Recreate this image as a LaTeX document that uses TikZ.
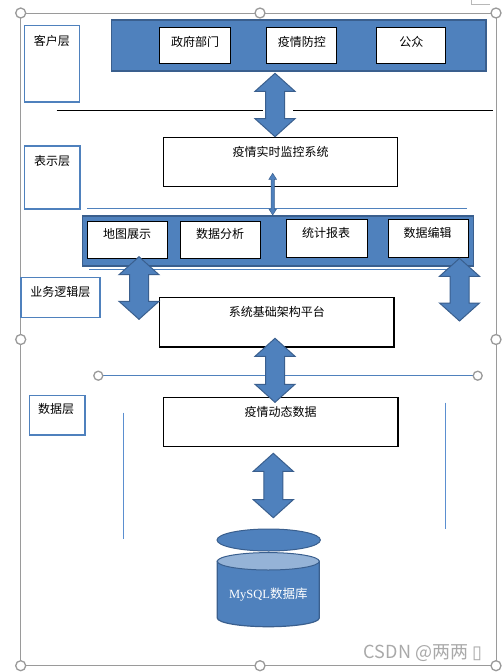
\documentclass[tikz,border=0pt]{standalone}
\usepackage{fontspec}
\setmainfont{Liberation Serif}
\newfontfamily\cjk{Noto Sans CJK SC}
\newfontfamily\dejavu{DejaVu Sans}
\usetikzlibrary{calc}
\definecolor{bfill}{HTML}{4F81BD}
\definecolor{bdark}{HTML}{3A5F8E}
\definecolor{blight}{HTML}{95B3D7}
\definecolor{bthin}{HTML}{5B8FD0}
\definecolor{frm}{HTML}{9A9A9A}
% block double arrow: top point, bottom point
\newcommand\blockarr[2]{\filldraw[arr] let \p1=#1, \p2=#2 in
  (\x1,\y1) -- (\x1+20pt,\y1-18pt) -- (\x1+9.5pt,\y1-18pt) -- (\x1+9.5pt,\y2+18pt) -- (\x1+20pt,\y2+18pt)
  -- (\x1,\y2) -- (\x1-20pt,\y2+18pt) -- (\x1-9.5pt,\y2+18pt) -- (\x1-9.5pt,\y1-18pt) -- (\x1-20pt,\y1-18pt) -- cycle;}
\newcommand\thinarr[2]{\filldraw[arr,line width=0.5pt] let \p1=#1, \p2=#2 in
  (\x1,\y1) -- (\x1+3.8pt,\y1-6pt) -- (\x1+1.7pt,\y1-6pt) -- (\x1+1.7pt,\y2+6pt) -- (\x1+3.8pt,\y2+6pt)
  -- (\x1,\y2) -- (\x1-3.8pt,\y2+6pt) -- (\x1-1.7pt,\y2+6pt) -- (\x1-1.7pt,\y1-6pt) -- (\x1-3.8pt,\y1-6pt) -- cycle;}
% box by corners
\newcommand\bx[6]{\node[#2, anchor=north west, inner sep=0pt, minimum width={(#5-#3)*1pt}, minimum height={(#6-#4)*1pt}] (#1) at (#3,#4) {};}
\tikzset{
  arr/.style={fill=bfill, draw=bdark, line width=1pt, line join=miter},
  layerbox/.style={draw=bfill, line width=1.5pt, fill=white},
  bar/.style={fill=bfill, draw=bdark, line width=1.5pt},
  wbox/.style={draw=black, line width=1pt, fill=white},
  bigbox/.style={draw=black, line width=1.7pt, fill=white},
  lbl/.style={font=\cjk\fontsize{12}{14}\selectfont, inner sep=0pt},
  handle/.style={draw=frm, line width=1.3pt, fill=white},
  bline/.style={draw=bfill, line width=0.9pt},
  vline/.style={draw=bthin, line width=1pt},
}
\begin{document}
\begin{tikzpicture}[x=1pt,y=-1pt]
\useasboundingbox (0,0) rectangle (501,672);
\fill[white] (0,0) rectangle (501,672);
% outer frame
\draw[frm, line width=1pt] (20.7,13) rectangle (496,665.7);
\draw[frm!70, line width=0.8pt] (471.7,0) -- (471.7,4.7) -- (490,4.7);
% layer label boxes
\bx{kh}{layerbox}{23.7}{24.7}{78.7}{101.3}
\bx{bs}{layerbox}{23.7}{145.3}{79}{208}
\bx{yw}{layerbox}{20}{276.7}{99.3}{316.7}
\bx{sj}{layerbox}{28.7}{394.7}{84}{434.3}
\node[lbl] (khT) at ([yshift=-15.8pt]kh.north) {客户层};
\node[lbl] (bsT) at ([yshift=-15.4pt]bs.north) {表示层};
\node[lbl] (ywT) at ([yshift=-15pt]yw.north) {业务逻辑层};
\node[lbl] (sjT) at ([xshift=-1pt,yshift=-14.6pt]sj.north) {数据层};
% top bar
\bx{bar1}{bar}{110.7}{19.3}{485.3}{70.3}
\bx{zf}{wbox}{159.3}{27.3}{229.7}{63}
\bx{yq}{wbox}{266.3}{27.3}{336.3}{63}
\bx{gz}{wbox}{376.3}{27.3}{445.3}{63}
\node[lbl] (zfT) at ([yshift=-14.4pt]zf.north) {政府部门};
\node[lbl] (yqT) at ([yshift=-14.4pt]yq.north) {疫情防控};
\node[lbl] (gzT) at ([yshift=-14.4pt]gz.north) {公众};
% separator line
\draw[black, line width=0.8pt] (56.7,110) -- (263,110);
\draw[black, line width=0.8pt] (293,110) -- (493.3,110);
% monitor system
\bx{sys}{bigbox}{162.7}{136.7}{396.7}{185.7}
\node[lbl] (sysT) at ([yshift=-15.6pt]sys.north) {疫情实时监控系统};
\coordinate (a1t) at (275,73.3);
\coordinate (a1b) at (275,136.7);
\blockarr{(a1t)}{(a1b)}
% second bar
\draw[bline] (87.3,208.7) -- (466.7,208.7);
\bx{bar2}{bar}{81.7}{215}{472.7}{265.3}
\bx{dt}{wbox}{87.3}{221.3}{167.3}{258}
\bx{fx}{wbox}{180.3}{221.3}{260.3}{258}
\bx{tj}{wbox}{286.3}{219.3}{366.7}{257}
\bx{bj}{wbox}{388.3}{219.3}{467.7}{257}
\node[lbl] (dtT) at ([xshift=-0.6pt,yshift=-12.7pt]dt.north) {地图展示};
\node[lbl] (fxT) at ([xshift=-0.8pt,yshift=-12.7pt]fx.north) {数据分析};
\node[lbl] (tjT) at ([xshift=-0.8pt,yshift=-13.7pt]tj.north) {统计报表};
\node[lbl] (bjT) at ([xshift=-1pt,yshift=-13.7pt]bj.north) {数据编辑};
\coordinate (a0t) at (272.7,173.3);
\coordinate (a0b) at (272.7,215);
\thinarr{(a0t)}{(a0b)}
\draw[bline] (89,269.3) -- (471.7,269.3);
% platform
\bx{jc}{bigbox}{158.7}{296.7}{393.3}{346}
\node[lbl] (jcT) at ([yshift=-15.6pt]jc.north) {系统基础架构平台};
\coordinate (a2t) at (139,256.7);
\coordinate (a2b) at (139,319.3);
\blockarr{(a2t)}{(a2b)}
\coordinate (a3t) at (459.5,258.3);
\coordinate (a3b) at (459.5,321);
\blockarr{(a3t)}{(a3b)}
% handle line
\coordinate (hl) at (98.3,375.7);
\coordinate (hr) at (477.7,375.7);
\draw[bline, line width=0.8pt] (hl) -- (hr);
\draw[handle] (hl) circle[radius=4.5pt];
\draw[handle] (hr) circle[radius=4.5pt];
% data box
\bx{dd}{bigbox}{162.7}{396.7}{397}{445.7}
\node[lbl] (ddT) at ([yshift=-15.6pt]dd.north) {疫情动态数据};
\coordinate (a4t) at (275,338.3);
\coordinate (a4b) at (275,402.3);
\blockarr{(a4t)}{(a4b)}
% vertical thin lines
\draw[vline] (123.3,412.7) -- (123.3,539.3);
\draw[vline] (445,402.7) -- (445,529.3);
% arrow to database
\coordinate (a5t) at (273.3,453.3);
\coordinate (a5b) at (273.3,517.7);
\blockarr{(a5t)}{(a5b)}
% database
\filldraw[fill=bfill, draw=bdark, line width=1pt] (268.7,540) ellipse[x radius=51.7pt, y radius=11pt];
\filldraw[fill=bfill, draw=bdark, line width=1.2pt] (217.3,561.3) -- (217.3,618) arc[start angle=180, end angle=360, x radius=51pt, y radius=8.7pt] -- (319.3,561.3) -- cycle;
\filldraw[fill=blight, draw=bdark, line width=1pt] (268.3,561.3) ellipse[x radius=51pt, y radius=8.7pt];
\node[inner sep=0pt, text=white, font=\fontsize{12.5}{14}\selectfont] (db) at (268.3,595) {MySQL{\cjk 数据库}};
% handles on frame
\foreach \p in {(20.7,13),(260,13),(496,13),(20.7,339.5),(496,339.5),(20.7,665.7),(260,665.7),(496,665.7)}
  \draw[handle] \p circle[radius=5pt];
% watermark
\node[inner sep=0pt, text=frm!85, font=\cjk\fontsize{18}{20}\selectfont] (wm) at (423,652.7) {CSDN @两两 {\dejavu ▯}};
\end{tikzpicture}
\end{document}
